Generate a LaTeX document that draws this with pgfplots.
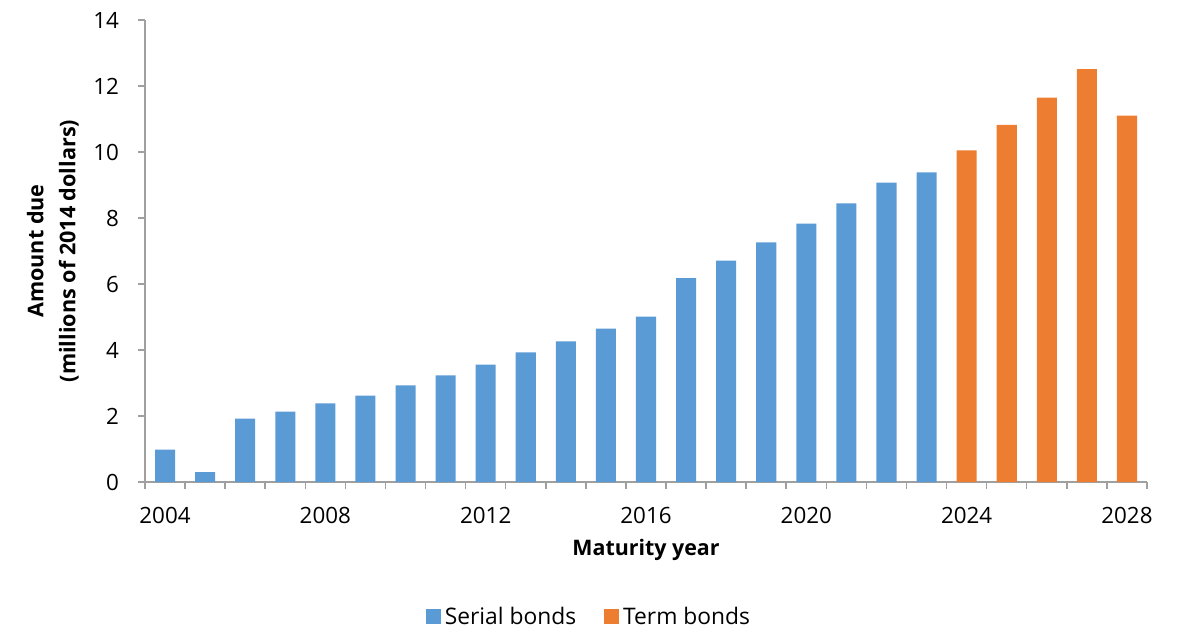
\documentclass[border=0pt]{standalone}
\usepackage{fontspec}
\setmainfont{Open Sans}
\usepackage{pgfplots}
\pgfplotsset{compat=1.18}
\usetikzlibrary{calc}
\definecolor{serial}{RGB}{91,155,213}
\definecolor{term}{RGB}{237,125,49}
\definecolor{axgray}{RGB}{160,160,160}
\begin{document}
\begin{tikzpicture}
\begin{axis}[
  name=ax,
  scale only axis, width=501pt, height=231pt,
  xmin=2003.5, xmax=2028.5, ymin=0, ymax=14,
  axis x line*=bottom, axis y line*=left,
  axis line style={axgray, line width=0.8pt},
  ybar, bar width=0.5,
  ytick={0,2,...,14},
  xtick={2003.5,2004.5,...,2028.5},
  xticklabels={},
  extra x ticks={2004,2008,2012,2016,2020,2024,2028},
  extra x tick labels={2004,2008,2012,2016,2020,2024,2028},
  extra x tick style={major tick length=0pt},
  tick align=outside,
  major tick length=3.5pt,
  tick style={axgray, line width=0.8pt},
  /pgf/number format/assume math mode=true,
  /pgf/number format/1000 sep={},
  ticklabel style={font=\fontsize{11.2}{13}\selectfont, text=black},
  yticklabel style={xshift=-6pt},
  xticklabel style={yshift=-9pt},
  xlabel={Maturity year},
  xlabel style={at={(rel axis cs:0.5,0)}, anchor=center, yshift=-34pt, font=\bfseries\fontsize{10.7}{12}\selectfont},
  legend style={at={(0.444,-0.292)}, anchor=center, legend columns=2, draw=none,
    font=\fontsize{11.4}{13}\selectfont,
    /tikz/every even column/.append style={column sep=12pt}},
  legend image code/.code={\fill[#1] (0pt,-3.75pt) rectangle (7.5pt,3.75pt);},
]
\addplot[fill=serial, draw=none, bar shift=0pt] coordinates {
 (2004,0.98) (2005,0.30) (2006,1.92) (2007,2.13) (2008,2.38) (2009,2.62)
 (2010,2.93) (2011,3.23) (2012,3.56) (2013,3.93) (2014,4.26) (2015,4.65)
 (2016,5.01) (2017,6.18) (2018,6.71) (2019,7.26) (2020,7.83) (2021,8.44)
 (2022,9.07) (2023,9.38)};
\addlegendentry{Serial bonds}
\addplot[fill=term, draw=none, bar shift=0pt] coordinates {
 (2024,10.05) (2025,10.82) (2026,11.65) (2027,12.51) (2028,11.10)};
\addlegendentry{Term bonds}
\end{axis}
\node[rotate=90, align=center, font=\bfseries\fontsize{10.8}{16}\selectfont] at ($(ax.west)+(-46pt,0)$) {Amount due\\(millions of 2014 dollars)};
\pgfresetboundingbox
\path ($(ax.south west)+(-72.5pt,-73pt)$) rectangle ($(ax.north east)+(19.5pt,10pt)$);
\end{tikzpicture}
\end{document}
